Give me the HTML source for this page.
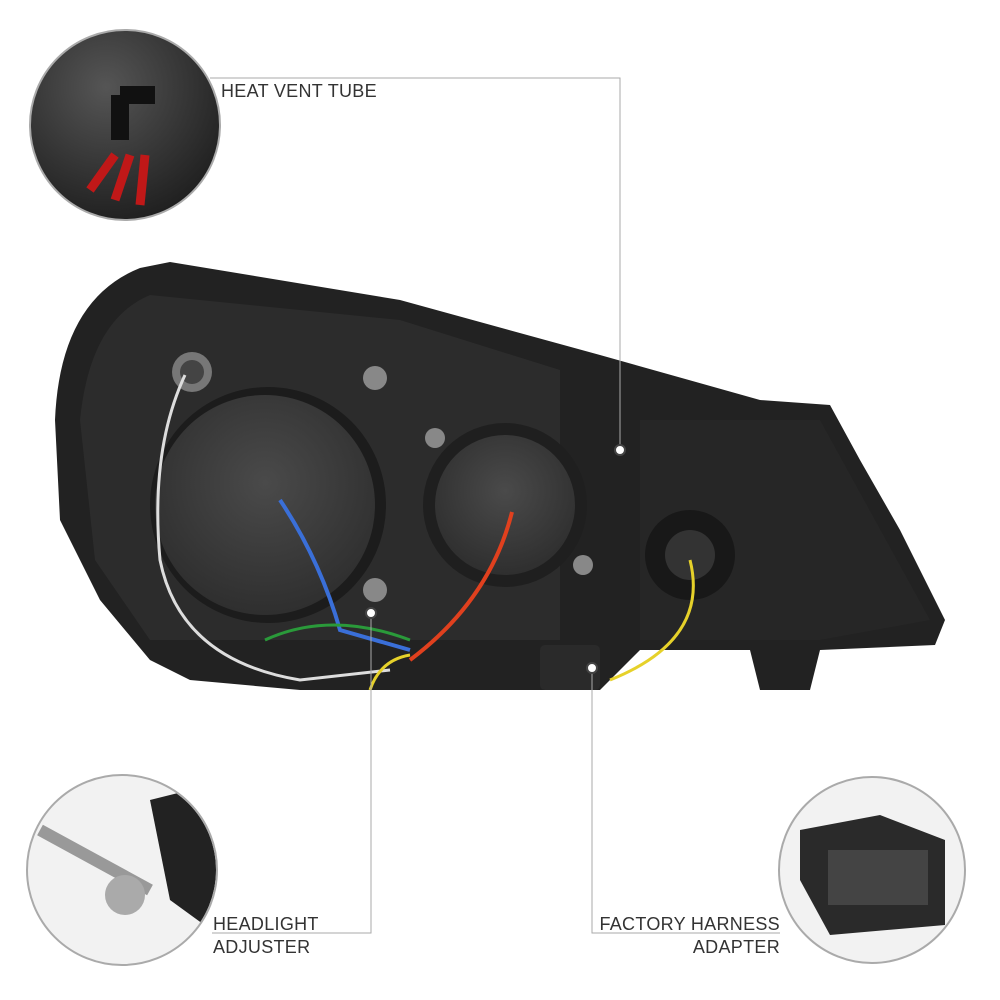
<!DOCTYPE html>
<html><head><meta charset="utf-8"><style>
html,body{margin:0;padding:0;background:#fff;}
.t{position:absolute;font-family:"Liberation Sans",sans-serif;font-size:18px;color:#333;letter-spacing:0.3px;line-height:23px}
</style></head><body>
<div style="position:relative;width:1000px;height:1000px;overflow:hidden">
<svg width="1000" height="1000" style="position:absolute;left:0;top:0">
<defs>
<radialGradient id="g1" cx="0.4" cy="0.3" r="0.8"><stop offset="0" stop-color="#555"/><stop offset="1" stop-color="#1a1a1a"/></radialGradient>
<radialGradient id="g2" cx="0.5" cy="0.4" r="0.7"><stop offset="0" stop-color="#4a4a4a"/><stop offset="1" stop-color="#2a2a2a"/></radialGradient>
<clipPath id="c1"><circle cx="125" cy="125" r="94"/></clipPath>
<clipPath id="c2"><circle cx="122" cy="870" r="94"/></clipPath>
<clipPath id="c3"><circle cx="872" cy="870" r="92"/></clipPath>
</defs>
<!-- headlight body -->
<path d="M55,420 Q60,300 140,268 L170,262 L400,300 L600,355 L760,400 L830,405 L860,460 L900,530 L945,620 L935,645 L820,650 L810,690 L760,690 L750,650 L640,650 L600,690 L300,690 L190,680 L150,660 L100,600 L60,520 Z" fill="#222"/>
<path d="M80,420 Q90,320 150,295 L400,320 L560,370 L560,640 L150,640 L95,560 Z" fill="#2c2c2c"/>
<path d="M640,420 L820,420 L930,620 L820,640 L640,640 Z" fill="#262626"/>
<circle cx="268" cy="505" r="118" fill="#1c1c1c"/>
<circle cx="265" cy="505" r="110" fill="url(#g2)"/>
<circle cx="505" cy="505" r="82" fill="#1f1f1f"/>
<circle cx="505" cy="505" r="70" fill="url(#g2)"/>
<circle cx="690" cy="555" r="45" fill="#181818"/>
<circle cx="690" cy="555" r="25" fill="#333"/>
<circle cx="192" cy="372" r="20" fill="#777"/>
<circle cx="192" cy="372" r="12" fill="#444"/>
<circle cx="375" cy="378" r="12" fill="#888"/>
<circle cx="435" cy="438" r="10" fill="#888"/>
<circle cx="583" cy="565" r="10" fill="#888"/>
<circle cx="375" cy="590" r="12" fill="#888"/>
<!-- wires -->
<path d="M185,375 Q150,450 160,560 Q180,660 300,680 L390,670" stroke="#ddd" stroke-width="3" fill="none"/>
<path d="M280,500 Q320,560 340,630 L410,650" stroke="#3a6fd8" stroke-width="4" fill="none"/>
<path d="M512,512 Q490,600 410,660" stroke="#e0401e" stroke-width="4" fill="none"/>
<path d="M265,640 Q330,610 410,640" stroke="#2a9a3a" stroke-width="3" fill="none"/>
<path d="M690,560 Q710,640 610,680" stroke="#e6d12a" stroke-width="3" fill="none"/>
<path d="M370,690 Q380,660 410,655" stroke="#e6d12a" stroke-width="3" fill="none"/>
<rect x="540" y="645" width="60" height="45" rx="5" fill="#2a2a2a"/>
<!-- callout lines -->
<polyline points="210,78 620,78 620,450" stroke="#aaa" stroke-width="1" fill="none"/>
<polyline points="371,613 371,933 212,933" stroke="#aaa" stroke-width="1" fill="none"/>
<polyline points="592,668 592,933 780,933" stroke="#aaa" stroke-width="1" fill="none"/>
<circle cx="620" cy="450" r="5" fill="#fff" stroke="#444" stroke-width="2"/>
<circle cx="371" cy="613" r="5" fill="#fff" stroke="#444" stroke-width="2"/>
<circle cx="592" cy="668" r="5" fill="#fff" stroke="#444" stroke-width="2"/>
<!-- circles -->
<circle cx="125" cy="125" r="95" fill="url(#g1)"/>
<g clip-path="url(#c1)">
<path d="M120,95 L120,140 M120,95 L155,95" stroke="#111" stroke-width="18" fill="none"/>
<path d="M115,155 L90,190 M130,155 L115,200 M145,155 L140,205" stroke="#c01818" stroke-width="9" fill="none"/>
</g>
<circle cx="125" cy="125" r="95" fill="none" stroke="#aaa" stroke-width="2"/>
<circle cx="122" cy="870" r="95" fill="#f2f2f2"/>
<g clip-path="url(#c2)">
<path d="M150,800 L190,790 L225,830 L225,940 L170,900 Z" fill="#222"/>
<path d="M40,830 L150,890" stroke="#999" stroke-width="12"/>
<circle cx="125" cy="895" r="20" fill="#aaa"/>
</g>
<circle cx="122" cy="870" r="95" fill="none" stroke="#aaa" stroke-width="2"/>
<circle cx="872" cy="870" r="93" fill="#f2f2f2"/>
<g clip-path="url(#c3)">
<path d="M800,830 L880,815 L945,840 L945,925 L830,935 L800,880 Z" fill="#2a2a2a"/>
<rect x="828" y="850" width="100" height="55" fill="#444"/>
</g>
<circle cx="872" cy="870" r="93" fill="none" stroke="#aaa" stroke-width="2"/>
</svg>
<div class="t" style="left:221px;top:80px">HEAT VENT TUBE</div>
<div class="t" style="left:213px;top:913px">HEADLIGHT<br>ADJUSTER</div>
<div class="t" style="left:598px;top:913px;text-align:right;width:182px">FACTORY HARNESS<br>ADAPTER</div>
</div>
</body></html>
